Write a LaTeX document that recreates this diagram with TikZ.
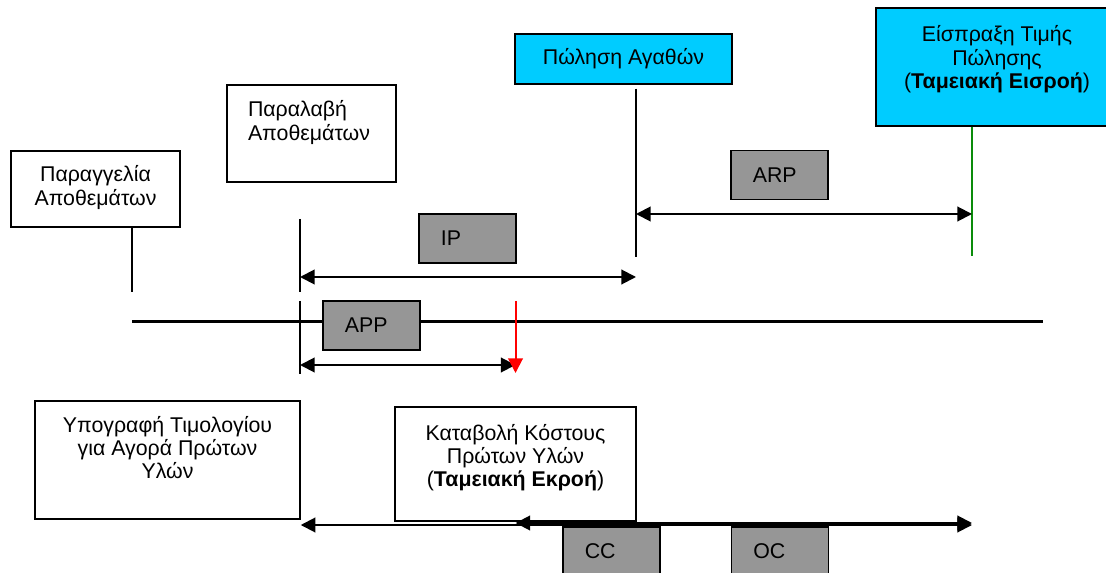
\documentclass[tikz,border=0pt]{standalone}
\usepackage{fontspec}
\setmainfont{Liberation Sans}
\usetikzlibrary{arrows.meta}

\definecolor{saleblue}{HTML}{00CCFF}
\definecolor{tagfill}{HTML}{969696}
\definecolor{cashgreen}{HTML}{0A8C0A}

% box text: [alignment]{width}{height}{first baseline}{text}
\newcommand{\evbox}[5][\centering]{\parbox[c][#3][t]{#2}{#1\rule{0pt}{#4}#5}}

\begin{document}
\begin{tikzpicture}[x=0.75pt,y=-0.75pt,
    >={Triangle[length=11pt,width=11pt]},
    every node/.style={font=\fontsize{16}{17.6}\selectfont},
    event/.style={draw,line width=1.1pt,inner sep=0pt},
    tag/.style={draw,line width=1.1pt,fill=tagfill,minimum width=72.75pt,
                minimum height=36.75pt,text width=40pt,inner xsep=16.4pt,align=left},
    tick/.style={line width=0.9pt},
    span/.style={line width=1.5pt,<->},
  ]
        \useasboundingbox (0,0) rectangle (1106,573);
        \clip (0,0) rectangle (1106,573);

        % events
        \node[event] (order) at (95.5,189)
            {\evbox{126.75pt}{57pt}{23.25pt}{Παραγγελία\\Αποθεμάτων}};
        \node[event] (receipt) at (311.5,133.5)
            {\evbox[\raggedright\leftskip=15.75pt]{126.75pt}{72.75pt}{24pt}{Παραλαβή\\Αποθεμάτων}};
        \node[event,fill=saleblue] (sale) at (623.5,59)
            {\evbox{162.75pt}{37.5pt}{23.25pt}{Πώληση Αγαθών}};
        \node[event,fill=saleblue] (collection) at (997,67)
            {\evbox{181.5pt}{88.5pt}{25.5pt}{Είσπραξη Τιμής\\Πώλησης\\(\textbf{Ταμειακή Εισροή})}};
        \node[event] (invoice) at (167.5,460)
            {\evbox{198.75pt}{88.5pt}{23.25pt}{Υπογραφή Τιμολογίου\\για Αγορά Πρώτων\\Υλών}};
        \node[event] (payment) at (515.5,464)
            {\evbox{180.75pt}{85.5pt}{24.75pt}{Καταβολή Κόστους\\Πρώτων Υλών\\(\textbf{Ταμειακή Εκροή})}};

        % time marks
        \coordinate (ordEnd) at (132,292);
        \coordinate (recTop) at (300,219);
        \coordinate (recGapA) at (300,292);
        \coordinate (recGapB) at (300,301);
        \coordinate (recEnd) at (300,374);
        \coordinate (payPt) at (515.5,301);
        \coordinate (saleEnd) at (636,257);
        \coordinate (collEnd) at (972,256);
        \coordinate (axisL) at (132,322);
        \coordinate (axisR) at (1043,322);

        \draw[tick] (order.south -| ordEnd) -- (ordEnd);
        \draw[tick] (recTop) -- (recGapA) (recGapB) -- (recEnd);
        \draw[tick] ([yshift=-3pt]sale.south -| saleEnd) -- (saleEnd);
        \draw[cashgreen,line width=1.7pt] (collection.south -| collEnd) -- (collEnd);
        \draw[line width=2.25pt] (axisL) -- (axisR);

        % periods
        \draw[span] (recTop |- 0,277) -- (saleEnd |- 0,277);
        \draw[span] (saleEnd |- 0,214) -- (collEnd |- 0,214);
        \draw[span] (recTop |- 0,365) -- (payPt |- 0,365);
        \draw[span] (invoice.south east |- 0,525) -- (collEnd |- 0,525);
        \draw[span] (payPt |- 0,523) -- (collEnd |- 0,523);
        \draw[red,line width=1.5pt,->] (payPt) -- (payPt |- 0,373);

        \node[tag] (ip) at (467.5,238.5) {IP};
        \node[tag] (arp) at (779.5,175) {ARP};
        \node[tag] (app) at (371.5,325.5) {APP};
        \node[tag] (cc) at (611.5,551.5) {CC};
        \node[tag] (oc) at (780,551.5) {OC};
\end{tikzpicture}
\end{document}
